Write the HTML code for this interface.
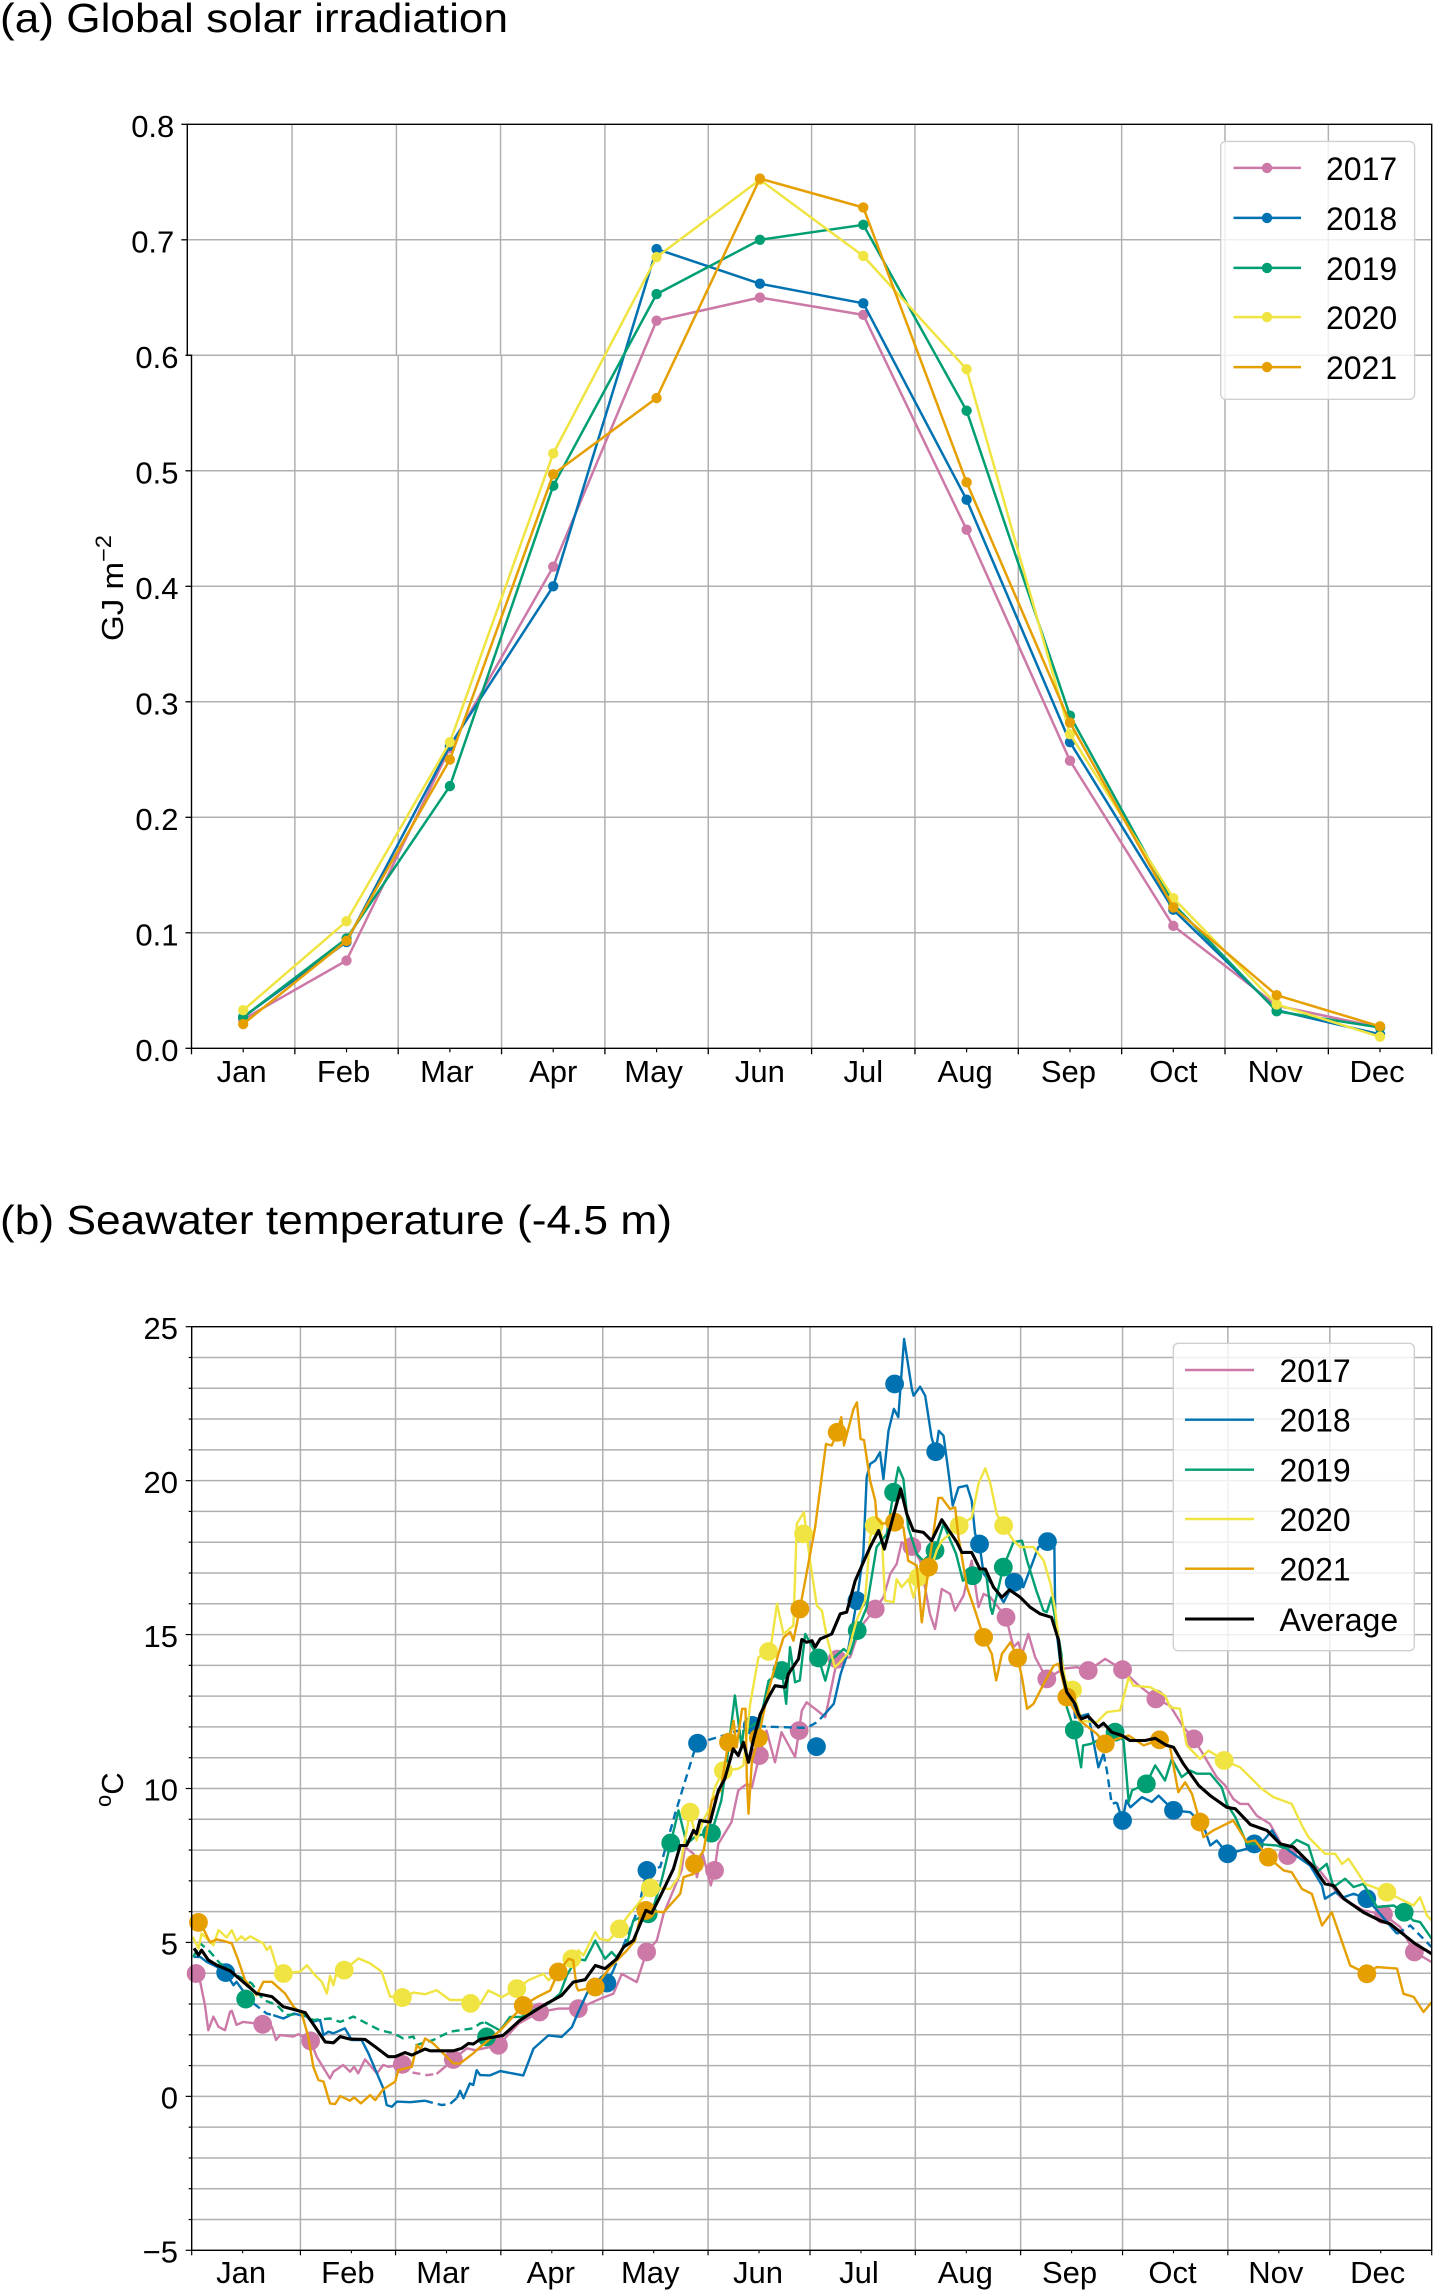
<!DOCTYPE html>
<html lang="en">
<head>
<meta charset="utf-8">
<title>Global solar irradiation and seawater temperature</title>
<style>
html,body{margin:0;padding:0;background:#fff;}
svg{display:block;font-family:"Liberation Sans",Arial,sans-serif;}
text{fill:#000;}
</style>
</head>
<body>
<svg id="fig" xmlns="http://www.w3.org/2000/svg" width="1439" height="2294" viewBox="0 0 1439 2294">
  <rect x="0" y="0" width="1439" height="2294" fill="#fff"/>
  <text x="0" y="32" font-size="41" textLength="508" lengthAdjust="spacingAndGlyphs">(a) Global solar irradiation</text>
  <text x="0" y="1234" font-size="41" textLength="672" lengthAdjust="spacingAndGlyphs">(b) Seawater temperature (-4.5 m)</text>
  <text transform="translate(123,641) rotate(-90)" font-size="31" textLength="106" lengthAdjust="spacingAndGlyphs">GJ m<tspan dy="-12" font-size="22">−2</tspan></text>
  <text transform="translate(123,1807) rotate(-90)" font-size="31"><tspan dy="-12" font-size="22">o</tspan><tspan dy="12">C</tspan></text>
  <g id="panelA"></g>
  <g id="panelB"></g>
</svg>
<script>
// ---------- Shared
const monthLabels = ['Jan','Feb','Mar','Apr','May','Jun','Jul','Aug','Sep','Oct','Nov','Dec'];
const yearLabels = ['2017','2018','2019','2020','2021'];
const yearColors = ['#CC79A7','#0072B2','#009E73','#F0E442','#E69F00'];

// ---------- Panel (a) data: monthly irradiation, GJ m-2
const irradiation2017 = [0.025,0.076,0.260,0.417,0.630,0.650,0.635,0.449,0.249,0.106,0.037,0.018];
const irradiation2018 = [0.027,0.092,0.262,0.400,0.692,0.662,0.645,0.475,0.265,0.120,0.033,0.012];
const irradiation2019 = [0.027,0.095,0.227,0.487,0.653,0.700,0.713,0.552,0.288,0.125,0.032,0.018];
const irradiation2020 = [0.033,0.110,0.265,0.515,0.685,0.752,0.686,0.588,0.272,0.130,0.038,0.010];
const irradiation2021 = [0.021,0.093,0.250,0.497,0.563,0.753,0.728,0.490,0.282,0.122,0.046,0.019];
const irradiationTicks = ['0.0','0.1','0.2','0.3','0.4','0.5','0.6','0.7','0.8'];

// ---------- Panel (b) data: daily seawater temperature, degC
const days2017 = [1.3,2.5,3.9,4.9,6.4,7.9,9.8,11.3,11.8,13.2,15.2,20.9,23.6,24.8,26,29.9,31.4,35,36.8,40.7,41.7,44.6,46.6,47.8,49,51,54.5,56.4,57.9,62,65.3,69.2,72.1,74.6,77,81,83.4,90.3,96.2,102.4,108,113.8,120.2,124.1,126.6,131,133.9,136.9,138.9,144.2,145.2,147.7,148.7,150.4,152.8,153.9,155,158.9,160.9,163.4,164.9,167.1,169.2,171.7,173.6,177.6,178.8,179.6,181,183.5,186.5,190,193.8,196.8,201.2,203.6,205.6,207.5,209,212,214.4,217.3,218.8,220.8,223.2,224.7,227.2,229.6,231.6,233.1,235.1,239.7,241.9,243.3,244.4,246.3,248.3,251.7,256.6,260.5,263.9,268.9,274,278.2,283.8,288,291.9,295,298.8,301.7,304.2,306.6,308.6,311,313.5,317.4,322.6,326.8,331.2,335.1,338.1,344.9,350.8,355.7,359.9,365];
const temps2017 = [3.99,3.72,2.97,2.15,2.59,2.26,2.15,2.75,2.78,2.32,2.42,2.34,2.26,1.83,1.99,1.94,2.02,1.8,1.29,0.58,0.8,1.02,0.8,0.96,0.75,1.2,0.75,1.02,0.96,1.04,0.77,0.69,0.73,0.96,1.2,1.56,1.5,1.66,2.36,2.74,2.85,2.85,3.17,3.33,3.98,3.71,4.69,5.06,5.93,7.34,8.1,7.88,7.12,7.88,6.85,7.34,8.2,8.91,9.94,10.15,10.04,11.07,11.88,10.85,11.83,11.02,11.88,12.53,12.8,12.59,12.32,14.2,14.26,15.24,15.83,16.21,16.97,17.29,18,17.86,17.4,15.67,15.18,16.48,16.32,15.78,16.27,17.4,15.89,16.32,16.21,15.56,14.59,14.75,14.37,15.02,14.26,13.56,13.89,13.94,13.83,14.21,13.86,13.4,12.91,12.69,11.99,11.61,10.91,10.37,10.1,9.66,9.5,9.5,9.12,8.85,7.82,7.77,7.45,6.9,6.47,6.04,5.91,5.5,4.69,4.36];
const dashed2017 = [[62,72]];
const markerDays2017 = [1.3,20.9,35,62,77,90.3,102.4,113.8,133.9,153.9,167.1,178.8,190,201.2,212,239.7,251.7,263.9,274,283.8,295,322.6,350.8,359.9];
const markerTemps2017 = [3.99,2.34,1.8,1.04,1.2,1.66,2.74,2.85,4.69,7.34,11.07,11.88,14.2,15.83,17.86,15.56,13.56,13.83,13.86,12.91,11.61,7.82,5.91,4.69];

const days2018 = [0.5,2.5,4.4,7.4,10,12.3,13.2,15.7,18.2,22.1,24,27,30,33.9,35.3,37.8,38.8,40.2,41.7,45.1,47.1,50,52,54.5,56.4,57.4,58.9,60.4,64.3,68.7,70.2,73.6,76,78,79,80,81.9,82.9,83.9,84.9,87.8,90.8,94.7,97.6,100.6,105,108.9,111.9,113.8,116.3,118.3,122.2,124.1,130.5,132,134,137.9,142.3,147.7,148.9,158,165,168.8,181,184,186,189,191,193,195.8,197.7,198.7,199.7,201.2,202.6,203.6,205.1,206.7,208,209.7,212,212.5,214.4,215.9,217.8,219,219.9,221.3,222.7,224,225.7,228.2,229.6,230.6,231.9,233.1,235.5,239,242.1,244.8,247.2,249.2,251.9,253.9,254.2,255.7,257.6,259.6,260,263.9,266.9,268.4,269.4,270.8,272.3,274,275.1,276.3,279.7,282.6,284.6,289,293.9,297.8,299.8,301.7,304.9,310.6,312.8,315.5,318,320.4,324.3,329.2,332.7,333.6,336.6,339.1,342,345.9,349.8,354.8,358.7,362.1,365];
const temps2018 = [4.53,4.53,4.37,4.21,4.02,3.61,3.72,3.34,3.02,2.69,2.64,2.53,2.69,2.59,2.42,2.48,1.99,2.1,2.05,2.21,1.83,1.83,1.4,0.75,0.26,-0.28,-0.34,-0.17,-0.19,-0.14,-0.19,-0.28,-0.25,-0.06,0.18,-0.06,0.42,0.37,0.85,0.69,0.68,0.82,0.74,0.68,1.55,1.98,1.93,2.25,2.74,3.33,3.82,3.68,4.09,5.82,6.36,7.34,7.45,9.18,11.13,11.47,11.77,12.05,12.01,11.97,12.15,12.37,12.75,13.72,14.37,16.1,17.62,20.11,20.54,20.65,20.92,20.05,21.62,22.33,22.06,24.6,22.97,22.76,23.05,22.76,21.4,20.94,21.62,21.46,20.32,19.19,19.78,19.84,19.35,18.27,17.94,16.97,16.65,16.05,16.7,16.54,17.24,17.84,18.02,18,15.45,14.05,13.29,12.86,12.3,12.42,10.69,11.13,10.58,9.5,9.55,8.96,9.61,9.39,9.72,9.56,9.77,9.29,9.23,8.8,8.15,8.31,7.88,8.04,8.2,8.31,8.64,8.2,7.88,7.5,6.85,6.42,6.63,6.47,6.58,6.42,5.93,5.28,5.55,5.17,4.85];
const dashed2018 = [[18,24],[68.7,78],[124.1,186],[268.4,272.3],[354.8,365]];
const markerDays2018 = [10,122.2,134,148.9,165,183.9,195.8,206.9,219,231.9,242.1,251.9,274,289,304.9,312.8,345.9];
const markerTemps2018 = [4.02,3.68,7.34,11.47,12.05,11.36,16.1,23.14,20.94,17.94,16.7,18.02,8.96,9.29,7.88,8.2,6.42];

const days2019 = [0.5,2.5,5.4,8.3,10.3,12.3,17.7,21.1,25,27.9,32.4,35.8,40.7,43.7,47.6,51.5,55.4,59.4,62.3,65.3,66.2,71.1,76,82.9,84.9,86.3,90.8,93.7,97.1,100.6,105,108.4,110.4,113.3,115.8,118.8,121.7,123.6,125,128.1,130,134.4,135.9,138.3,141,143.3,145.7,148.6,153,155.9,157.2,159.9,161.9,162.4,167.3,169.8,173.7,175,176.1,177.6,179,180.6,184.5,186.5,188,191.9,193.8,195.9,198.7,201.6,204.6,206.6,208,209.5,210.9,213.4,215.3,218.8,221.3,225,227,229.9,233.7,235.1,235.7,238.9,241.9,244.4,245.9,248.6,250.7,251.7,253.1,256,257.6,259.8,261.8,262.4,264.6,271.8,274.3,275.8,276.8,281,283.6,286.5,288.5,291.4,293.9,295.9,299.8,303.2,304.7,307.2,310.6,313.5,319.4,322.4,325.3,328.7,331.2,334.1,336.1,339.5,342,344.9,348.9,353.8,356.9,359.6,361.6,365];
const temps2019 = [4.53,4.97,4.7,4.32,4.21,3.99,3.67,3.13,2.97,2.64,2.69,2.48,2.53,2.42,2.59,2.37,2.15,2.05,1.88,1.94,1.67,1.83,2.1,2.21,2.37,2.41,2.14,2.58,2.58,2.79,3.01,3.33,3.93,4.47,4.42,5.06,4.47,4.69,4.52,4.96,5.71,5.93,6.15,7.01,8.23,9.29,8.2,8.47,8.55,9.61,10.6,13.02,11.34,11.88,12.2,13.5,13.83,12.75,14.59,13.45,13.51,15.02,14.24,13.5,14.15,14.53,14.37,15.13,15.89,17.84,18.27,19.62,20.43,20.05,18.48,17.62,17.4,17.73,18.59,17.62,16.75,16.91,17.08,15.89,15.67,17.19,18,18.05,17.4,16.43,15.78,15.73,16.21,14.37,12.64,11.9,10.69,11.4,11.45,11.83,11.56,9.56,9.94,10.15,10.75,10.26,10.96,10.37,10.58,10.48,10.48,10.04,9.5,9.07,8.2,8.2,8.15,8.04,8.33,8.15,7.28,7.55,6.8,7.07,6.8,6.9,6.15,6.2,5.98,5.71,5.66,5.12];
const dashed2019 = [[0,86.3]];
const markerDays2019 = [15.9,86.8,134.4,141,153,173.7,184.5,195.9,206.6,218.8,229.9,238.9,259.8,271.8,281,356.9];
const markerTemps2019 = [3.16,1.93,5.93,8.23,8.55,13.83,14.24,15.13,19.62,17.73,16.91,17.19,11.9,11.83,10.15,5.98];

const days2020 = [0.3,2,2.9,4.9,6.4,7.9,10.3,11.8,13.2,14.7,15.7,17.2,21.1,22.1,23.1,25,27,31.9,33.9,36.3,38.3,39.8,40.7,41.7,42.7,44.9,49.1,52.5,55.9,58.4,62,65.3,68.7,72.1,76,79.5,82.1,84.9,87.3,91.3,95.7,99.1,103.5,105,111.9,113.8,115.3,118.8,120,122.7,125.9,128.1,131,135,140.8,143.3,144.8,146.7,148.6,150.6,152.6,154,156.5,160.9,162.4,164.4,166.8,170.3,172.3,174.2,177.1,178.1,180.2,182,184,185.5,187,189.3,190.4,193,195.7,198.2,199.7,200.9,203.1,204.1,206.6,207.5,209,211,212.5,213.9,216.4,219.3,220.8,223.2,225.9,229.6,231.6,233.6,235.1,237,239,241.9,243.9,247.8,250.8,252.8,254.2,255.7,257.2,259.3,262,266.4,269.4,273.3,275.8,277.2,282.1,286.5,288,290.9,292.9,296.8,299.3,303.9,308.6,315,318.4,323.8,326.8,328.7,333.6,336.6,338.6,340.5,345.4,351.8,359.6,361.6,363.6,365];
const temps2020 = [5.18,4.8,5.29,5.08,4.91,5.4,5.16,5.4,5.05,5.2,5.08,5.2,4.97,4.75,4.88,4.21,3.99,4.05,4.26,3.94,3.72,3.34,3.91,3.61,4.05,4.1,4.48,4.32,4.05,3.24,3.21,3.37,3.32,3.45,3.13,3.13,3.02,3.0,3.44,3.22,3.5,3.77,3.98,3.77,4.47,4.74,4.58,5.34,5.12,5.06,5.44,5.82,6.2,6.77,6.74,7.12,8.1,9.23,8.31,8.96,9.39,10.04,10.58,10.64,10.75,12.75,14.26,14.48,16,15.02,15.29,18.6,18.97,17.4,15.94,15.78,14.9,13.94,14.05,14.37,15.45,16.1,18.16,18.54,18.27,16.1,16.05,16.8,16.54,16.8,16.2,16.86,16.75,17.73,18.05,18.27,18.54,18.8,19.9,20.4,19.9,18.9,18.54,18.05,17.84,17.84,17.4,16.65,15.78,14.37,13.51,13.2,12.2,12.15,12.48,12.54,13.61,13.34,13.29,13.02,12.64,12.59,11.4,10.96,11.23,10.91,10.69,9.99,9.72,9.5,8.8,8.42,7.88,7.88,7.55,7.72,6.9,6.63,6.2,6.47,5.88,5.71];
const dashed2020 = [];
const markerDays2020 = [27,44.9,62,82.1,95.7,111.9,125.9,135,146.7,156.5,169.8,180.1,200.9,213.9,225.9,239,259.3,303.9,351.8];
const markerTemps2020 = [3.99,4.1,3.21,3.02,3.5,4.47,5.44,6.77,9.23,10.58,14.45,18.27,18.54,16.86,18.54,18.54,13.2,10.91,6.63];

const days2021 = [2,3.4,5.4,7.4,9.3,11.8,13.7,15.7,19.1,21.1,23.6,27.5,30,32.4,34.3,35.8,37.3,38.8,40.7,42.2,43.7,46.6,47.8,49.8,52.5,54,56.4,59.9,60.8,64.8,66.3,67.4,68.7,71.1,74,77,79,82.9,84.9,90.8,97.6,101.6,105.5,107.9,110.9,112.3,113.3,113.8,118.8,123.2,128.1,130.5,132,133.7,138.9,143.8,144.8,147.8,148,150.7,153.1,155.6,158,159.5,160.4,162,163,163.4,163.9,164.9,166.8,169.3,172.7,174.2,176.2,177.1,179,180.6,183.5,186.7,188.4,190,191.2,192,194.8,195.8,196.9,197.9,199.7,201.2,201.6,203.1,206.9,209.5,210.9,213.4,214.9,216.9,219.8,220.8,223.2,224.7,225.7,228.2,230.6,233.1,235.5,236.8,238.5,241,243.1,244.4,245.9,247.8,250.8,253.7,255.2,257.6,261.5,266.4,268.9,272.3,275.8,280.2,284.9,288,290.4,292.4,294.4,296.8,297.8,300.7,306.6,310.6,313,316.9,321.4,323.8,326.8,329.7,332.7,335.6,337.6,341,345.9,348.8,354.8,356.7,359.7,362.6,365];
const temps2021 = [5.65,5.45,5,5.1,5.05,4.97,4.43,3.78,3.29,3.72,3.72,3.34,2.91,2.69,1.94,0.96,0.53,0.48,-0.23,-0.25,0.01,-0.14,-0.03,-0.23,0.04,-0.12,0.23,0.48,0.85,0.96,1.67,1.53,1.88,1.72,1.4,1.07,1.07,1.4,1.6,2.14,2.95,3.22,3.44,4.04,4.47,4.42,3.55,3.44,3.55,4.2,4.74,5.06,5.82,6.04,5.98,6.58,7.12,7.23,7.55,7.99,9.6,9.93,11.5,12.2,11.34,12.59,12.59,10.37,9.18,10.9,11.64,12.97,14.37,14.9,15.08,14.8,15.83,16.75,18.48,21.19,21.14,21.57,22.06,21.14,22.33,22.54,21.35,21.32,20,19.35,18.8,18.6,18.65,18.48,17.4,17.24,15.4,17.19,19.44,19.44,19.08,19.13,18.16,16.54,15.78,14.91,14.37,13.51,14.37,14.75,14.24,13.61,12.59,12.75,13.4,13.99,14.05,12.97,12.2,11.78,11.45,11.61,11.72,11.4,11.58,11.34,9.88,10.2,9.83,8.91,8.42,8.64,8.96,8.26,8.31,7.77,7.34,7.28,6.74,6.58,5.55,5.98,5.34,4.25,3.98,4.2,4.15,3.33,3.23,2.74,3.06];
const dashed2021 = [];
const markerDays2021 = [2,97.6,107.9,118.8,133.7,148,158,166.8,179,190,206.9,216.9,233.1,243.1,257.6,268.9,284.9,296.8,316.9,345.9];
const markerTemps2021 = [5.65,2.95,4.04,3.55,6.04,7.55,11.5,11.64,15.83,21.57,18.65,17.19,14.91,14.24,12.97,11.45,11.58,8.91,7.77,3.98];

const daysAverage = [0.7,2,2.9,4.9,7.4,11.3,15.7,19.1,23.6,27,30.9,33.4,36.3,39.3,41.7,43.7,46.6,51,54,57.9,59.9,62.8,64.8,68.7,70.2,77,79.5,81.5,82.9,84.9,91.7,96.6,103.5,108.9,112.3,115.8,118.8,121.7,125.1,127.1,130,133.7,135.4,138.3,141.8,143.8,145.7,147.7,148.6,149.6,152.6,155,156.9,159.4,160.9,162.4,163.9,165.3,167.3,169.8,171.7,174.7,175.6,178.6,179.6,181,182.6,183.5,185,188.4,190.9,192.8,195.3,199.7,202.2,203.9,208.7,210.5,212.4,215.4,217.8,220.8,225.2,226.7,229.6,232,233.6,236,238.5,240.7,243.9,246.8,249.8,253.1,255.2,256.1,257.6,260,261,261.9,263.9,266.9,268.4,270.8,273.8,276.2,280.6,283.6,287,289,291.9,296.4,299.8,304.7,307.2,311.6,316.5,320.4,324.3,330.2,333.6,336.1,339.1,344.9,349.8,352.8,360.1,365];
const tempsAverage = [4.81,4.59,4.75,4.43,4.26,4.08,3.67,3.34,3.24,2.91,2.8,2.72,2.26,1.77,1.74,1.94,1.86,1.85,1.61,1.29,1.29,1.42,1.34,1.54,1.48,1.48,1.56,1.72,1.7,1.85,1.98,2.47,2.95,3.28,3.71,3.79,4.25,4.15,4.47,4.85,5.06,6.04,5.95,6.58,7.39,8.15,8.15,8.64,8.53,8.96,8.91,9.93,10.31,11.29,11.07,11.5,10.85,11.56,12.4,12.97,13.34,13.29,13.72,14.21,14.84,14.75,14.8,14.59,14.86,15.02,15.67,15.73,16.75,17.84,18.38,17.78,19.73,18.92,18.38,18.32,18.05,18.73,18,17.67,17.67,17.13,17.13,16.54,16.21,16.45,16.21,15.89,15.67,15.56,14.8,13.83,13.13,12.75,12.42,12.26,12.35,11.99,12.12,11.83,11.72,11.56,11.56,11.63,11.4,11.34,10.8,10.1,9.77,9.39,9.34,8.83,8.64,8.2,8.1,7.45,6.9,6.85,6.42,5.98,5.71,5.6,4.96,4.63];

const tempMajorTicks = ['−5','0','5','10','15','20','25'];
const tempMajorValues = [-5,0,5,10,15,20,25];
const tempMinorValues = [-4,-3,-2,-1,1,2,3,4,6,7,8,9,11,12,13,14,16,17,18,19,21,22,23,24];
const monthStartDays = [0,32,60,91,121,152,182,213,244,274,305,335,365];
const monthMidDays = [15,47,75,106,136,167,197,228,259,289,320,350];

// ---------- Helpers
const NS = 'http://www.w3.org/2000/svg';
function mk(tag, parent, props){
  const n = document.createElementNS(NS, tag);
  for(const k in props) n.setAttribute(k, props[k]);
  parent.appendChild(n);
  return n;
}
const GRID = '#b0b0b0';

// ---------- Panel (a)
(function(){
  const root = document.getElementById('panelA');
  const L = 191.5, R = 1431.7, T = 124.3, B = 1048.3;
  const xA = i => L + (i + 0.5) * (R - L) / 12;
  const xEdge = i => L + i * (R - L) / 12;
  const yA = v => B + (T - B) * v / 0.8;
  const foldY = yA(0.6);
  // The source picture has a slight horizontal seam above 0.6.
  const seamShift = [4.2,2.8,1.8,1,0,0,0,0,0,0,0,0,0];
  const labelNudge = [-1.5,-3,-3,0,-3,0,0,-1.5,-1.5,0,-1.5,-3];

  for(let i = 0; i <= 8; i++){
    const v = i / 10;
    const y = yA(v);
    const s = v > 0.6 ? 4.2 : 0;
    if(i > 0 && i < 8){
      const g = mk('line', root, {x1:L - s, x2:R, y1:y, y2:y, stroke:GRID, 'stroke-width':1.5});
      
      
    }
    const t = mk('line', root, {x1:L - s - 6, x2:L - s, y1:y, y2:y, stroke:'#000', 'stroke-width':1.3});
    
    
    const lb = mk('text', root, {x:L - 13 - s, y:y + 12.5, 'font-size':31, 'text-anchor':'end'});
    lb.textContent = irradiationTicks[i];
    
    
  }
  for(let i = 1; i < 12; i++){
    const x = xEdge(i);
    const g = mk('line', root, {x1:x, x2:x, y1:foldY, y2:B, stroke:GRID, 'stroke-width':1.5});
    
    
    const g2 = mk('line', root, {x1:x - seamShift[i], x2:x - seamShift[i], y1:T, y2:foldY, stroke:GRID, 'stroke-width':1.5});
    
    
  }
  for(let i = 0; i <= 12; i++){
    const x = xEdge(i);
    const t = mk('line', root, {x1:x, x2:x, y1:B, y2:B + 6, stroke:'#000', 'stroke-width':1.3});
    
    
  }
  monthLabels.forEach((m, i) => {
    const t = mk('line', root, {x1:xA(i), x2:xA(i), y1:B, y2:B + 4, stroke:'#000', 'stroke-width':1.2});
    
    
    const lb = mk('text', root, {x:xA(i) + labelNudge[i], y:1082, 'font-size':31, 'text-anchor':'middle'});
    lb.textContent = m;
    
    
  });

  const series = [irradiation2017, irradiation2018, irradiation2019, irradiation2020, irradiation2021];
  series.forEach((vals, s) => {
    const p = mk('polyline', root, {
      points: vals.map((v, i) => xA(i).toFixed(1) + ',' + yA(v).toFixed(1)).join(' '),
      fill:'none', stroke:yearColors[s], 'stroke-width':2.5, 'stroke-linejoin':'round'
    });
    
    
    vals.forEach((v, i) => {
      const c = mk('circle', root, {cx:xA(i), cy:yA(v), r:5.2, fill:yearColors[s]});
      
      
    });
  });

  // axes
  const ax = mk('path', root, {d:`M${L} ${B}H${R}V${T}H${L - 4.2}V${foldY}H${L}V${B}`, fill:'none', stroke:'#000', 'stroke-width':1.4});
  
  

  // legend
  const box = mk('rect', root, {x:1220.7, y:141.4, width:193.9, height:257.9, rx:5, fill:'#fff', 'fill-opacity':0.8, stroke:'#d0d0d0', 'stroke-width':1.4});
  
  
  const legendRows = [167.9,217.9,267.9,317.1,367.1];
  yearLabels.forEach((lab, i) => {
    const l = mk('line', root, {x1:1233.5, x2:1301, y1:legendRows[i], y2:legendRows[i], stroke:yearColors[i], 'stroke-width':2.5});
    
    
    const c = mk('circle', root, {cx:1267, cy:legendRows[i], r:5.2, fill:yearColors[i]});
    
    
    const tx = mk('text', root, {x:1326, y:legendRows[i] + 12, 'font-size':32});
    tx.textContent = lab;
    
    
  });
})();

// ---------- Panel (b)
(function(){
  const root = document.getElementById('panelB');
  const L = 191.7, R = 1431.7, T = 1326.7, B = 2250.3;
  const xB = d => L + d * (R - L) / 365;
  const yB = v => B + (T - B) * (v + 5) / 30;
  const labelNudge = [-1.5,-3.5,-3.5,-1,-3.5,-1,-2,-1,-2,-1,-3,-3];

  tempMinorValues.concat(tempMajorValues).forEach(v => {
    const y = yB(v);
    if(v > -5 && v < 25){
      const g = mk('line', root, {x1:L, x2:R, y1:y, y2:y, stroke:GRID, 'stroke-width':1.5});
      
      
    }
    const major = tempMajorValues.indexOf(v) >= 0;
    const t = mk('line', root, {x1:L - (major ? 6 : 3), x2:L, y1:y, y2:y, stroke:'#000', 'stroke-width':1.2});
    
    
  });
  tempMajorValues.forEach((v, i) => {
    const lb = mk('text', root, {x:178, y:yB(v) + 12.2, 'font-size':31, 'text-anchor':'end'});
    lb.textContent = tempMajorTicks[i];
    
    
  });
  monthStartDays.forEach(d => {
    const x = xB(d);
    if(d > 0 && d < 365){
      const g = mk('line', root, {x1:x, x2:x, y1:T, y2:B, stroke:GRID, 'stroke-width':1.5});
      
      
    }
    const t = mk('line', root, {x1:x, x2:x, y1:B, y2:B + 5, stroke:'#000', 'stroke-width':1.2});
    
    
  });
  monthMidDays.forEach((d, i) => {
    const x = xB(d);
    const t = mk('line', root, {x1:x, x2:x, y1:B, y2:B + 3, stroke:'#000', 'stroke-width':1.1});
    
    
    const lb = mk('text', root, {x:x + labelNudge[i], y:2283, 'font-size':31, 'text-anchor':'middle'});
    lb.textContent = monthLabels[i];
    
    
  });

  const dayArrays = [days2017, days2018, days2019, days2020, days2021];
  const tempArrays = [temps2017, temps2018, temps2019, temps2020, temps2021];
  const dashArrays = [dashed2017, dashed2018, dashed2019, dashed2020, dashed2021];
  const mDayArrays = [markerDays2017, markerDays2018, markerDays2019, markerDays2020, markerDays2021];
  const mTempArrays = [markerTemps2017, markerTemps2018, markerTemps2019, markerTemps2020, markerTemps2021];

  function isDashed(ranges, d){
    return ranges.some(r => d >= r[0] && d <= r[1]);
  }
  dayArrays.forEach((days, s) => {
    const temps = tempArrays[s];
    let solid = '', dashed = '', last = null;
    for(let i = 0; i < days.length - 1; i++){
      const kind = isDashed(dashArrays[s], (days[i] + days[i + 1]) / 2) ? 'd' : 's';
      const a = xB(days[i]).toFixed(1) + ' ' + yB(temps[i]).toFixed(1);
      const b = xB(days[i + 1]).toFixed(1) + ' ' + yB(temps[i + 1]).toFixed(1);
      const seg = (kind === last ? '' : 'M' + a) + 'L' + b;
      if(kind === 'd') dashed += seg; else solid += seg;
      last = kind;
    }
    const p = mk('path', root, {d:solid, fill:'none', stroke:yearColors[s], 'stroke-width':2.4, 'stroke-linejoin':'round'});
    
    
    if(dashed){
      const q = mk('path', root, {d:dashed, fill:'none', stroke:yearColors[s], 'stroke-width':2.4, 'stroke-dasharray':'8 5'});
      
      
    }
    mDayArrays[s].forEach((d, i) => {
      const c = mk('circle', root, {cx:xB(d), cy:yB(mTempArrays[s][i]), r:9.4, fill:yearColors[s]});
      
      
    });
  });
  const avg = mk('polyline', root, {
    points: daysAverage.map((d, i) => xB(d).toFixed(1) + ',' + yB(tempsAverage[i]).toFixed(1)).join(' '),
    fill:'none', stroke:'#000', 'stroke-width':3.1, 'stroke-linejoin':'round'
  });
  
  

  const ax = mk('rect', root, {x:L, y:T, width:R - L, height:B - T, fill:'none', stroke:'#000', 'stroke-width':1.4});
  
  

  // legend
  const box = mk('rect', root, {x:1173.3, y:1343.3, width:241, height:307.4, rx:5, fill:'#fff', 'fill-opacity':0.8, stroke:'#d0d0d0', 'stroke-width':1.4});
  
  
  const legendRows = [1370,1419.7,1469.7,1519,1568.7,1619];
  const legendLabels = yearLabels.concat(['Average']);
  const legendColors = yearColors.concat(['#000']);
  legendLabels.forEach((lab, i) => {
    const l = mk('line', root, {x1:1185, x2:1254, y1:legendRows[i], y2:legendRows[i], stroke:legendColors[i], 'stroke-width':i === 5 ? 3.1 : 2.4});
    
    
    const tx = mk('text', root, {x:1279.5, y:legendRows[i] + 12, 'font-size':32});
    tx.textContent = lab;
    
    
  });
})();
</script>
</body>
</html>
